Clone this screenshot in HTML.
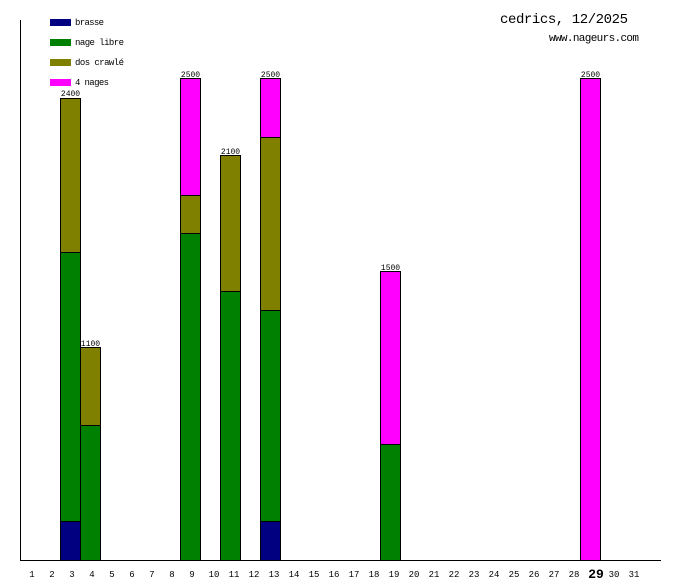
<!DOCTYPE html>
<html><head><meta charset="utf-8"><style>body{margin:0;background:#fff}svg{display:block}text{font-family:"Liberation Mono",monospace}</style></head><body>
<svg width="680" height="580" viewBox="0 0 680 580" xmlns="http://www.w3.org/2000/svg">
<rect width="680" height="580" fill="#fff"/>
<g stroke="#000" stroke-width="1">
<rect x="60.5" y="521.5" width="20" height="39" fill="#000080"/>
<rect x="60.5" y="252.5" width="20" height="269" fill="#008000"/>
<rect x="60.5" y="98.5" width="20" height="154" fill="#808000"/>
<rect x="80.5" y="425.5" width="20" height="135" fill="#008000"/>
<rect x="80.5" y="347.5" width="20" height="78" fill="#808000"/>
<rect x="180.5" y="233.5" width="20" height="327" fill="#008000"/>
<rect x="180.5" y="195.5" width="20" height="38" fill="#808000"/>
<rect x="180.5" y="78.5" width="20" height="117" fill="#ff00ff"/>
<rect x="220.5" y="291.5" width="20" height="269" fill="#008000"/>
<rect x="220.5" y="155.5" width="20" height="136" fill="#808000"/>
<rect x="260.5" y="521.5" width="20" height="39" fill="#000080"/>
<rect x="260.5" y="310.5" width="20" height="211" fill="#008000"/>
<rect x="260.5" y="137.5" width="20" height="173" fill="#808000"/>
<rect x="260.5" y="78.5" width="20" height="59" fill="#ff00ff"/>
<rect x="380.5" y="444.5" width="20" height="116" fill="#008000"/>
<rect x="380.5" y="271.5" width="20" height="173" fill="#ff00ff"/>
<rect x="580.5" y="78.5" width="20" height="482" fill="#ff00ff"/>
</g>
<line x1="20.5" y1="20" x2="20.5" y2="561" stroke="#000"/>
<line x1="20" y1="560.5" x2="661" y2="560.5" stroke="#000"/>
<g font-size="8" fill="#000" text-anchor="middle">
<text x="70.5" y="96">2400</text>
<text x="90.5" y="346">1100</text>
<text x="190.5" y="77">2500</text>
<text x="230.5" y="154">2100</text>
<text x="270.5" y="77">2500</text>
<text x="390.5" y="270">1500</text>
<text x="590.5" y="77">2500</text>
</g>
<g font-size="9" fill="#000" text-anchor="middle">
<text x="32" y="577">1</text><text x="52" y="577">2</text><text x="72" y="577">3</text><text x="92" y="577">4</text><text x="112" y="577">5</text><text x="132" y="577">6</text><text x="152" y="577">7</text><text x="172" y="577">8</text><text x="192" y="577">9</text><text x="214" y="577">10</text><text x="234" y="577">11</text><text x="254" y="577">12</text><text x="274" y="577">13</text><text x="294" y="577">14</text><text x="314" y="577">15</text><text x="334" y="577">16</text><text x="354" y="577">17</text><text x="374" y="577">18</text><text x="394" y="577">19</text><text x="414" y="577">20</text><text x="434" y="577">21</text><text x="454" y="577">22</text><text x="474" y="577">23</text><text x="494" y="577">24</text><text x="514" y="577">25</text><text x="534" y="577">26</text><text x="554" y="577">27</text><text x="574" y="577">28</text><text x="596" y="578" font-size="13" font-weight="bold">29</text><text x="614" y="577">30</text><text x="634" y="577">31</text>
</g>
<rect x="50" y="19" width="21" height="7" fill="#000080"/>
<rect x="50" y="39" width="21" height="7" fill="#008000"/>
<rect x="50" y="59" width="21" height="7" fill="#808000"/>
<rect x="50" y="79" width="21" height="7" fill="#ff00ff"/>
<g font-size="9" fill="#000">
<text x="75" y="25" textLength="29">brasse</text>
<text x="75" y="45" textLength="49">nage libre</text>
<text x="75" y="65" textLength="49">dos crawlé</text>
<text x="75" y="85" textLength="34">4 nages</text>
</g>
<text x="500" y="23" font-size="14" fill="#000" textLength="128">cedrics, 12/2025</text>
<text x="549" y="41" font-size="11" fill="#000" textLength="90">www.nageurs.com</text>
</svg>
</body></html>
